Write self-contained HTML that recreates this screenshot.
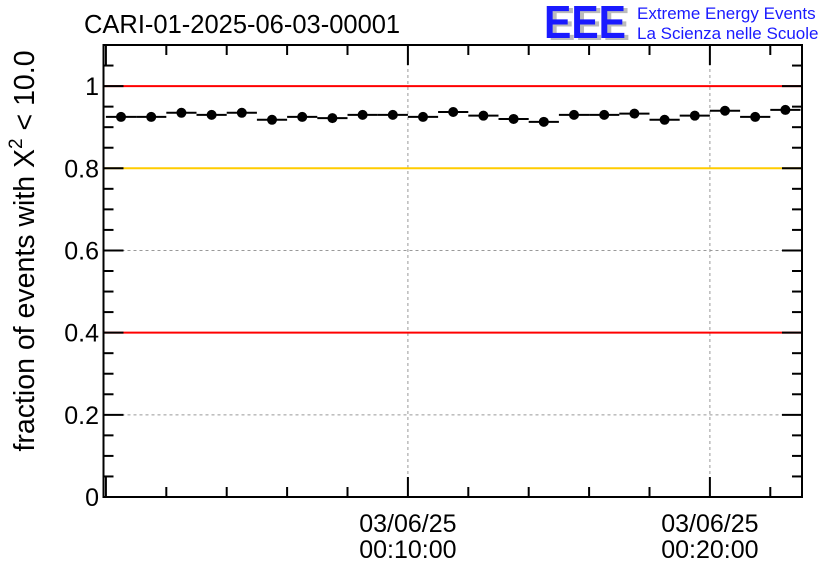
<!DOCTYPE html>
<html><head><meta charset="utf-8"><style>
body{margin:0;background:#fff;width:836px;height:572px;overflow:hidden}
text{font-family:"Liberation Sans",sans-serif}
</style></head><body>
<svg id="c" width="836" height="572" xmlns="http://www.w3.org/2000/svg">
<text x="84" y="33" font-size="25.5">CARI-01-2025-06-03-00001</text>
<g>
<text x="548" y="40" font-size="46" font-weight="bold" fill="#bbb" textLength="82" lengthAdjust="spacingAndGlyphs">EEE</text>
<text x="544" y="38" font-size="46" font-weight="bold" fill="#1a1aff" textLength="82" lengthAdjust="spacingAndGlyphs">EEE</text>
<text x="637" y="19" font-size="17" fill="#1a1aff">Extreme Energy Events</text>
<text x="637" y="39" font-size="17" fill="#1a1aff">La Scienza nelle Scuole</text>
</g>
<text transform="translate(34,251) rotate(-90)" text-anchor="middle" font-size="28.5">fraction of events with X<tspan dy="-12" font-size="19">2</tspan><tspan dy="12"> &lt; 10.0</tspan></text>
<g id="plot"></g>
</svg>
<script>
const values=[0.925,0.925,0.935,0.930,0.935,0.918,0.925,0.922,0.930,0.930,0.925,0.937,0.928,0.920,0.913,0.930,0.930,0.933,0.918,0.928,0.940,0.925,0.942];
const yTicks=[0,0.2,0.4,0.6,0.8,1];
const yTickLabels=["0","0.2","0.4","0.6","0.8","1"];
const xMajorMinutes=[10,20];
const xDateLabels=["03/06/25","03/06/25"];
const xTimeLabels=["00:10:00","00:20:00"];
const refLines=[1.0,0.8,0.4];
const refColors=["#ff0000","#ffcc00","#ff0000"];
const L=103.5,R=802,T=45,B=497;
const xMin=-0.08,xMax=23.05,yMin=0,yMax=1.1;
const X=m=>L+(m-xMin)/(xMax-xMin)*(R-L);
const Y=v=>B-(v-yMin)/(yMax-yMin)*(B-T);
const g=document.getElementById('plot');
const NS="http://www.w3.org/2000/svg";
function mk(tag,a){const e=document.createElementNS(NS,tag);for(const k in a)e.setAttribute(k,a[k]);g.appendChild(e);return e;}
yTicks.forEach(v=>{if(v>0&&v<1){const e=mk('line',{x1:L,x2:R,y1:Y(v),y2:Y(v),stroke:'#999','stroke-dasharray':'3,3','stroke-width':1});

}});
xMajorMinutes.forEach(m=>{const e=mk('line',{x1:X(m),x2:X(m),y1:T,y2:B,stroke:'#999','stroke-dasharray':'3,3','stroke-width':1});

});
refLines.forEach((v,i)=>{const e=mk('line',{x1:L,x2:R,y1:Y(v),y2:Y(v),stroke:refColors[i],'stroke-width':2});

});
const fr=mk('rect',{x:L,y:T,width:R-L,height:B-T,fill:'none',stroke:'#000','stroke-width':2});


for(let v=0;v<=1.1001;v+=0.05){const maj=Math.abs(v/0.2-Math.round(v/0.2))<1e-6;const len=maj?20:10;
mk('line',{x1:L,x2:L+len,y1:Y(v),y2:Y(v),stroke:'#000','stroke-width':2});
mk('line',{x1:R,x2:R-len,y1:Y(v),y2:Y(v),stroke:'#000','stroke-width':2});}
yTicks.forEach((v,i)=>{const t=mk('text',{x:99,y:Y(v)+9,'font-size':25,'text-anchor':'end'});t.textContent=yTickLabels[i];

});
for(let m=0;m<=23;m+=2){const maj=m%10===0;const len=maj?20:10;
mk('line',{x1:X(m),x2:X(m),y1:B,y2:B-len,stroke:'#000','stroke-width':2});
mk('line',{x1:X(m),x2:X(m),y1:T,y2:T+len,stroke:'#000','stroke-width':2});}
xMajorMinutes.forEach((m,i)=>{
const a=mk('text',{x:X(m),y:532,'font-size':25,'text-anchor':'middle'});a.textContent=xDateLabels[i];


const b=mk('text',{x:X(m),y:558,'font-size':25,'text-anchor':'middle'});b.textContent=xTimeLabels[i];

});
values.forEach((v,i)=>{
const h=mk('line',{x1:X(i),x2:X(i+1),y1:Y(v),y2:Y(v),stroke:'#000','stroke-width':2});


const c=mk('circle',{cx:X(i+0.5),cy:Y(v),r:5,fill:'#000'});

});
</script>
</body></html>
